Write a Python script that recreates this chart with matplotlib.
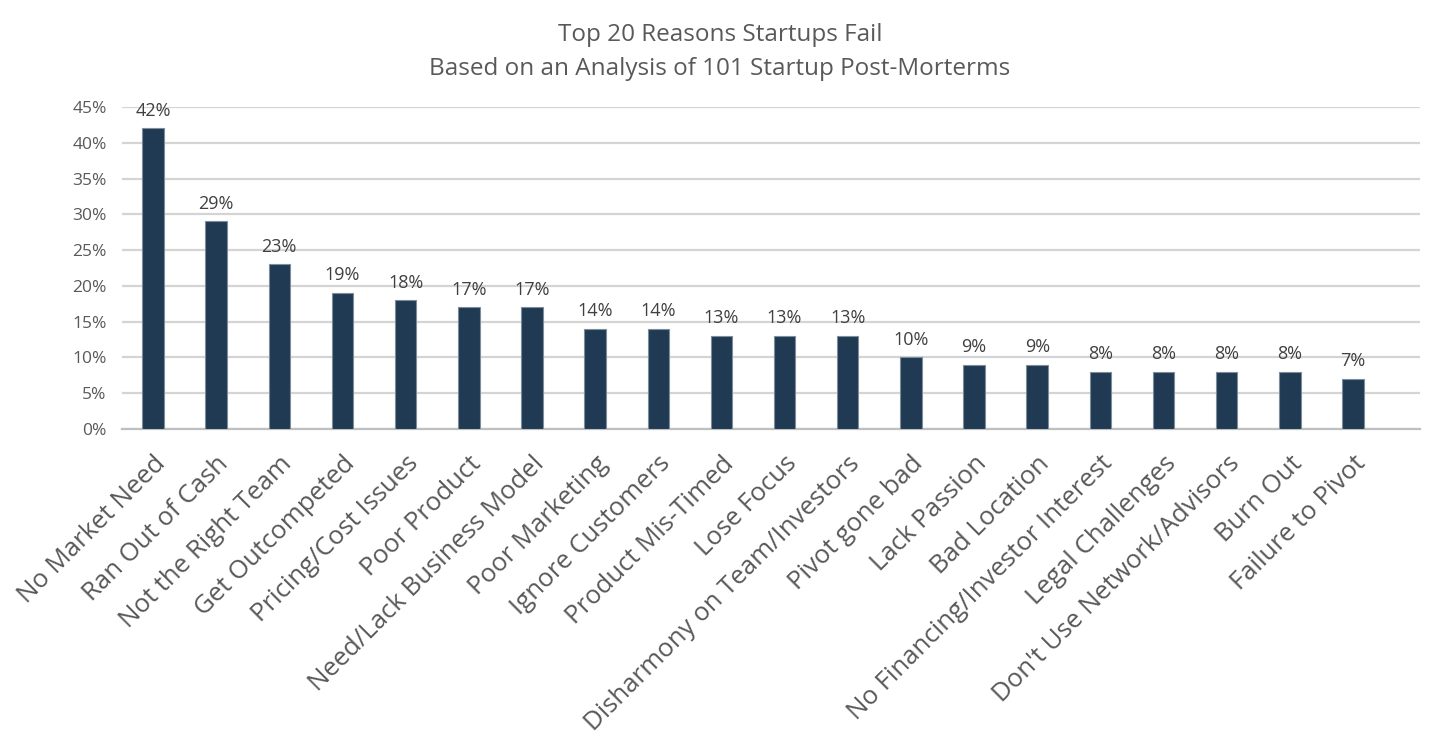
import matplotlib
matplotlib.use('Agg')
import numpy as np
from matplotlib import pyplot as plt
from matplotlib.ticker import PercentFormatter

plt.rcParams['font.family'] = ['Open Sans', 'DejaVu Sans']

# Data
reasons = ['No Market Need', 'Ran Out of Cash', 'Not the Right Team', 'Get Outcompeted',
           'Pricing/Cost Issues', 'Poor Product', 'Need/Lack Business Model', 'Poor Marketing',
           'Ignore Customers', 'Product Mis-Timed', 'Lose Focus', 'Disharmony on Team/Investors',
           'Pivot gone bad', 'Lack Passion', 'Bad Location', 'No Financing/Investor Interest',
           'Legal Challenges', "Don't Use Network/Advisors", 'Burn Out', 'Failure to Pivot']
share = [42, 29, 23, 19, 18, 17, 17, 14, 14, 13, 13, 13, 10, 9, 9, 8, 8, 8, 8, 7]
y_ticks = [0, 5, 10, 15, 20, 25, 30, 35, 40, 45]

text_col = '#595959'
bar_col = '#1f3a52'

fig = plt.figure(figsize=(14.4, 7.38), dpi=100)
ax = fig.add_axes([122 / 1440, 1 - 429 / 738, (1420 - 122) / 1440, (429 - 107) / 738])

x = np.arange(len(reasons))
bars = ax.bar(x, share, width=0.34, color=bar_col, edgecolor='#7f8c99', linewidth=0.8, zorder=3)

for xi, v in zip(x, share):
    ax.text(xi, v + 1.2, f'{v}%', ha='center', va='bottom', fontsize=13, color='#404040')

ax.set_ylim(0, 45)
ax.set_yticks(y_ticks)
ax.yaxis.set_major_formatter(PercentFormatter(decimals=0))
ax.set_xlim(-0.49, 20.06)
ax.set_xticks(x)
ax.set_xticklabels(reasons, rotation=45, ha='right', rotation_mode='anchor',
                   fontsize=18.5, color=text_col)
ax.tick_params(axis='y', length=0, labelsize=12.5, labelcolor=text_col, pad=11)
ax.tick_params(axis='x', length=0, pad=16)

ax.grid(axis='y', color='#d4d4d4', linewidth=1.6, zorder=0)
for s in ['top', 'right', 'left']:
    ax.spines[s].set_visible(False)
ax.spines['bottom'].set_color('#bfbfbf')
ax.spines['bottom'].set_linewidth(1.6)

fig.text(0.5, 1 - 35 / 738, 'Top 20 Reasons Startups Fail', ha='center', va='center',
         fontsize=17.5, color=text_col)
fig.text(0.5, 1 - 69 / 738, 'Based on an Analysis of 101 Startup Post-Morterms', ha='center',
         va='center', fontsize=17.5, color=text_col)

plt.savefig('out.png', dpi=100)
